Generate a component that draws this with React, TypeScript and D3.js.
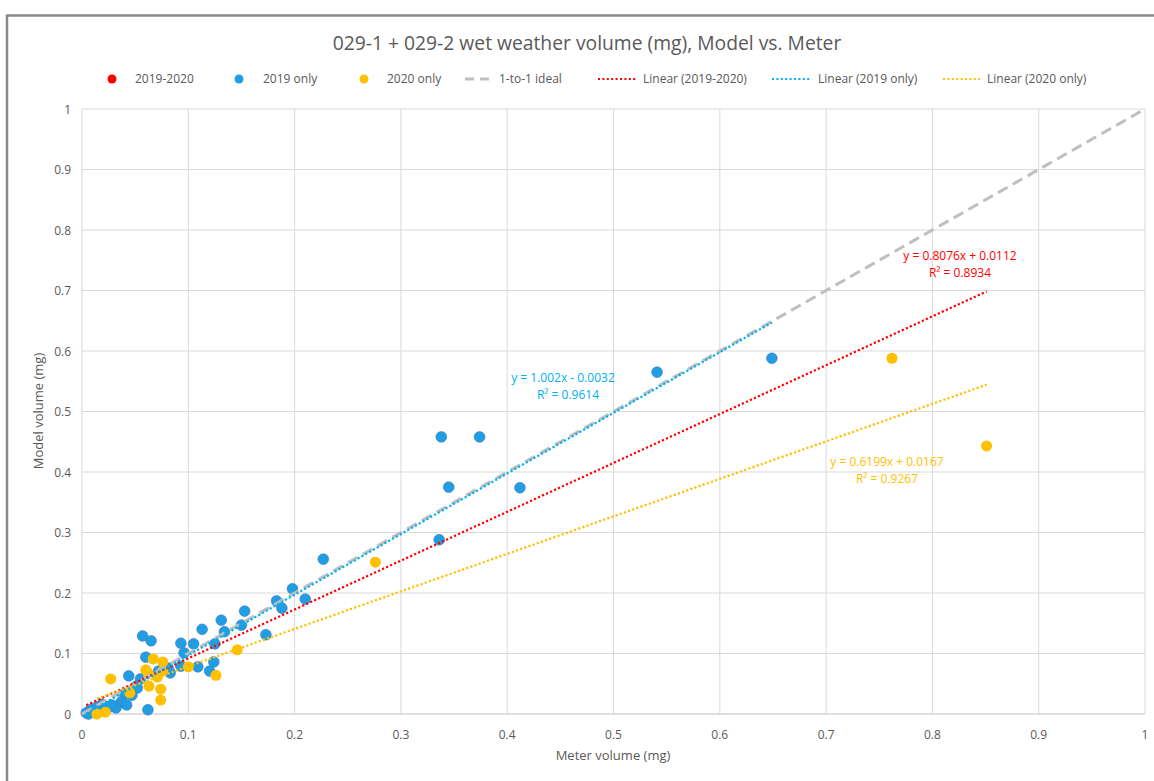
import React from "react";
import * as d3 from "d3";

const title = "029-1 + 029-2 wet weather volume (mg), Model vs. Meter";
const xTitle = "Meter volume (mg)";
const yTitle = "Model volume (mg)";
const ticks = [0, 0.1, 0.2, 0.3, 0.4, 0.5, 0.6, 0.7, 0.8, 0.9, 1];

// 2019 only
const blueX = [0.541, 0.649, 0.338, 0.374, 0.345, 0.412, 0.336, 0.227, 0.198, 0.183, 0.188, 0.210, 0.173, 0.153, 0.150, 0.131, 0.134, 0.113, 0.057, 0.065, 0.093, 0.105, 0.125, 0.096, 0.060, 0.072, 0.083, 0.093, 0.109, 0.120, 0.124, 0.081, 0.044, 0.055, 0.051, 0.052, 0.047, 0.040, 0.037, 0.042, 0.032, 0.026, 0.062, 0.015, 0.008, 0.004, 0.006, 0.011, 0.017, 0.021, 0.024, 0.019, 0.013, 0.028];
const blueY = [0.565, 0.588, 0.458, 0.458, 0.375, 0.374, 0.288, 0.256, 0.207, 0.187, 0.175, 0.190, 0.131, 0.170, 0.147, 0.155, 0.136, 0.140, 0.129, 0.121, 0.117, 0.116, 0.116, 0.101, 0.094, 0.071, 0.068, 0.079, 0.078, 0.071, 0.086, 0.076, 0.063, 0.058, 0.046, 0.043, 0.031, 0.033, 0.020, 0.015, 0.010, 0.012, 0.007, 0.012, 0.007, 0.002, 0.000, 0.003, 0.007, 0.005, 0.010, 0.016, 0.010, 0.015];

// 2020 only
const orangeX = [0.762, 0.851, 0.276, 0.146, 0.126, 0.100, 0.067, 0.076, 0.060, 0.071, 0.076, 0.063, 0.045, 0.074, 0.074, 0.027, 0.062, 0.014, 0.022];
const orangeY = [0.588, 0.443, 0.251, 0.106, 0.064, 0.078, 0.091, 0.086, 0.073, 0.061, 0.071, 0.046, 0.035, 0.041, 0.023, 0.058, 0.068, 0.000, 0.003];

// trendline coefficients (as labelled)
const fitAll = { m: 0.8076, b: 0.0112, r2: "0.8934" };
const fit2019 = { m: 1.002, b: -0.0032, r2: "0.9614" };
const fit2020 = { m: 0.6199, b: 0.0167, r2: "0.9267" };

const C_RED = "#FF0000";
const C_BLUE = "#1F9FE2";
const C_BLUE_LINE = "#00B0F0";
const C_ORANGE = "#FFC000";
const C_GREY = "#BFBFBF";
const TXT = "#595959";
const FONT = "'Open Sans', 'Noto Sans', sans-serif";

export default function App() {
  const W = 1154, H = 781;
  const x = d3.scaleLinear().domain([0, 1]).range([82, 1145]);
  const y = d3.scaleLinear().domain([0, 1]).range([714, 109]);

  const allX = [...blueX, ...orangeX];
  const allY = [...blueY, ...orangeY];

  const line = d3.line<[number, number]>().x(d => x(d[0])).y(d => y(d[1]));
  const trend = (xs: number[], f: { m: number; b: number }) => {
    const lo = d3.min(xs) as number, hi = d3.max(xs) as number;
    return line([[lo, f.m * lo + f.b], [hi, f.m * hi + f.b]]) as string;
  };

  const legend1 = [
    { label: "2019-2020", c: C_RED, dx: 112, tx: 135 },
    { label: "2019 only", c: C_BLUE, dx: 239, tx: 263 },
    { label: "2020 only", c: C_ORANGE, dx: 364, tx: 387 },
  ];
  const legend2 = [
    { label: "Linear (2019-2020)", c: C_RED, x0: 598, tx: 643 },
    { label: "Linear (2019 only)", c: C_BLUE_LINE, x0: 772, tx: 818 },
    { label: "Linear (2020 only)", c: C_ORANGE, x0: 943, tx: 987 },
  ];
  const LY = 79;

  return (
    <svg width={W} height={H} style={{ position: "absolute", left: 0, top: 0, background: "#fff" }} fontFamily={FONT}>
      <rect x={0} y={0} width={W} height={H} fill="#fff" />
      <rect x={7} y={15.5} width={1200} height={900} fill="none" stroke="#8a8a8a" strokeWidth={2.5} />
      {/* grid */}
      {ticks.map(t => (
        <line key={"gx" + t} x1={x(t)} x2={x(t)} y1={y(0)} y2={y(1)} stroke="#D9D9D9" strokeWidth={1} />
      ))}
      {ticks.map(t => (
        <line key={"gy" + t} x1={x(0)} x2={x(1)} y1={y(t)} y2={y(t)} stroke="#D9D9D9" strokeWidth={1} />
      ))}
      <line x1={x(0)} x2={x(1)} y1={y(0)} y2={y(0)} stroke="#D0D0D0" strokeWidth={1.2} />
      {/* tick labels */}
      {ticks.map(t => (
        <text key={"tx" + t} x={x(t)} y={739} textAnchor="middle" fontSize={12} fill={TXT}>{String(t)}</text>
      ))}
      {ticks.map(t => (
        <text key={"ty" + t} x={71} y={y(t) + 4.5} textAnchor="end" fontSize={12} fill={TXT}>{String(t)}</text>
      ))}
      {/* titles */}
      <text x={587} y={50} textAnchor="middle" fontSize={19.3} fill={TXT}>{title}</text>
      <text x={613} y={760} textAnchor="middle" fontSize={13} fill={TXT}>{xTitle}</text>
      <text transform={`translate(43,411) rotate(-90)`} textAnchor="middle" fontSize={13} fill={TXT}>{yTitle}</text>
      {/* points */}
      {allX.map((v, i) => (
        <circle key={"r" + i} cx={x(v)} cy={y(allY[i])} r={4.8} fill={C_RED} />
      ))}
      {blueX.map((v, i) => (
        <circle key={"b" + i} cx={x(v)} cy={y(blueY[i])} r={5.4} fill={C_BLUE} stroke="#4a78c8" strokeWidth={0.6} />
      ))}
      {orangeX.map((v, i) => (
        <circle key={"o" + i} cx={x(v)} cy={y(orangeY[i])} r={5.5} fill={C_ORANGE} />
      ))}
      {/* 1-to-1 */}
      <path d={line([[0, 0], [1, 1]]) as string} stroke={C_GREY} strokeWidth={3} strokeDasharray="11 6" fill="none" />
      {/* trendlines */}
      <path d={trend(allX, fitAll)} stroke={C_RED} strokeWidth={2.2} strokeDasharray="2.2 2.2" fill="none" />
      <path d={trend(blueX, fit2019)} stroke={C_BLUE_LINE} strokeWidth={2.2} strokeDasharray="2.2 2.2" fill="none" />
      <path d={trend(orangeX, fit2020)} stroke={C_ORANGE} strokeWidth={2.2} strokeDasharray="2.2 2.2" fill="none" />
      {/* trend labels */}
      <text x={960} y={260} textAnchor="middle" fontSize={12} fill={C_RED}>{`y = ${fitAll.m}x + ${fitAll.b}`}</text>
      <text x={960} y={277} textAnchor="middle" fontSize={12} fill={C_RED}>R² = {fitAll.r2}</text>
      <text x={563} y={382} textAnchor="middle" fontSize={12} fill={C_BLUE_LINE}>{`y = ${fit2019.m}x - ${Math.abs(fit2019.b)}`}</text>
      <text x={568} y={399} textAnchor="middle" fontSize={12} fill={C_BLUE_LINE}>R² = {fit2019.r2}</text>
      <text x={887} y={466} textAnchor="middle" fontSize={12} fill={C_ORANGE}>{`y = ${fit2020.m}x + ${fit2020.b}`}</text>
      <text x={887} y={483} textAnchor="middle" fontSize={12} fill={C_ORANGE}>R² = {fit2020.r2}</text>
      {/* legend */}
      {legend1.map(l => (
        <g key={l.label}>
          <circle cx={l.dx} cy={LY} r={4.5} fill={l.c} />
          <text x={l.tx} y={LY + 4.3} fontSize={12} fill={TXT}>{l.label}</text>
        </g>
      ))}
      <line x1={465} x2={490} y1={LY} y2={LY} stroke={C_GREY} strokeWidth={3} strokeDasharray="9 6" />
      <text x={499} y={LY + 4.3} fontSize={12} fill={TXT}>1-to-1 ideal</text>
      {legend2.map(l => (
        <g key={l.label}>
          <line x1={l.x0} x2={l.x0 + 38} y1={LY} y2={LY} stroke={l.c} strokeWidth={2} strokeDasharray="2 2.4" />
          <text x={l.tx} y={LY + 4.3} fontSize={12} fill={TXT}>{l.label}</text>
        </g>
      ))}
    </svg>
  );
}
